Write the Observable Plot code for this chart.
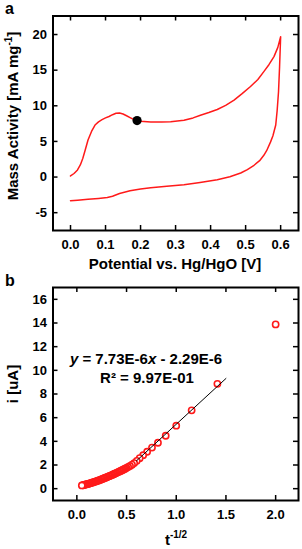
<!DOCTYPE html>
<html><head><meta charset="utf-8">
<script src="https://cdn.jsdelivr.net/npm/d3@7"></script>
<script src="https://cdn.jsdelivr.net/npm/@observablehq/plot@0.6"></script>
<style>
body{margin:0;background:#fff;}
#c{width:302px;}
#c svg{display:block;}
</style></head><body><div id="c"></div>
<script>
// ---- Panel a: cyclic voltammogram ----
const cvPotential = [0.000,0.010,0.020,0.028,0.035,0.042,0.050,0.060,0.070,0.080,0.090,0.100,0.110,0.120,0.130,0.140,0.150,0.160,0.170,0.180,0.190,0.200,0.229,0.260,0.286,0.324,0.350,0.371,0.395,0.419,0.443,0.467,0.490,0.514,0.535,0.552,0.567,0.581,0.592,0.600,
  0.597,0.594,0.590,0.586,0.578,0.571,0.560,0.552,0.540,0.524,0.505,0.486,0.455,0.419,0.370,0.324,0.275,0.229,0.200,0.170,0.140,0.120,0.105,0.080,0.050,0.020,0.000];
const cvActivity = [0.15,0.5,1.0,1.7,2.6,3.8,5.2,6.4,7.3,7.75,8.05,8.3,8.5,8.75,8.95,9.0,8.85,8.6,8.35,8.1,7.93,7.82,7.74,7.72,7.76,7.98,8.3,8.68,9.05,9.48,10.05,10.8,11.7,12.7,13.7,14.8,15.8,16.9,18.2,19.7,
  15.5,12.0,9.3,7.3,5.8,4.9,3.7,3.05,2.3,1.65,1.05,0.57,0.05,-0.37,-0.75,-1.07,-1.3,-1.5,-1.68,-1.93,-2.3,-2.7,-2.88,-3.0,-3.12,-3.25,-3.33];
const markerPotential = [0.19];
const markerActivity = [7.93];
const aXTicks = [0.0,0.1,0.2,0.3,0.4,0.5,0.6];
const aYTicks = [-5,0,5,10,15,20];

// ---- Panel b: i vs t^-1/2 ----
const tInvSqrt = [2.0,1.414,1.155,1.0,0.894,0.816,0.756,0.707,0.667,0.632,0.603,0.577,0.555,0.535,0.516,
  0.50,0.49,0.48,0.47,0.46,0.45,0.44,0.43,0.42,0.41,0.40,0.39,0.38,0.37,0.36,0.35,0.34,0.33,0.32,0.31,0.30,0.29,0.28,0.27,0.26,0.25,0.24,0.23,0.22,0.21,0.20,0.19,0.18,0.17,0.16,0.15,0.14,0.13,0.12,0.11,0.10,0.09,0.08,0.07,0.06,0.05];
const currentUA = [13.88,8.86,6.62,5.32,4.47,3.88,3.47,3.12,2.83,2.58,2.35,2.16,2.03,1.92,1.83,
  1.76,1.71,1.67,1.62,1.58,1.54,1.50,1.46,1.42,1.38,1.34,1.30,1.26,1.22,1.18,1.15,1.11,1.07,1.04,1.00,0.97,0.93,0.90,0.86,0.83,0.80,0.76,0.73,0.70,0.67,0.64,0.61,0.58,0.56,0.53,0.50,0.47,0.45,0.42,0.40,0.38,0.35,0.33,0.31,0.29,0.27];
const fitX = [0.6,1.5];
const fitY = [2.35,9.31];
const bXTicks = [0.0,0.5,1.0,1.5,2.0];
const bYTicks = [0,2,4,6,8,10,12,14,16];

const FONT = "Arial, 'Liberation Sans', sans-serif";
const cv = cvPotential.map((x,i)=>({x, y: cvActivity[i]}));
const marker = markerPotential.map((x,i)=>({x, y: markerActivity[i]}));
const pts = tInvSqrt.map((x,i)=>({x, y: currentUA[i]}));
const fit = fitX.map((x,i)=>({x, y: fitY[i]}));

function frameMarks(xt, yt, innerW, innerH, xfmt){
  const tk = 5;
  return [
    Plot.tickX(xt, {x: d=>d, insetTop: innerH - tk, stroke:"black", strokeWidth:1.5}),
    Plot.tickX(xt, {x: d=>d, insetBottom: innerH - tk, stroke:"black", strokeWidth:1.5}),
    Plot.tickY(yt, {y: d=>d, insetRight: innerW - tk, stroke:"black", strokeWidth:1.5}),
    Plot.tickY(yt, {y: d=>d, insetLeft: innerW - tk, stroke:"black", strokeWidth:1.5}),
    Plot.axisX(xt, {anchor:"bottom", tickSize:0, tickPadding:9, tickFormat: xfmt, fontSize:13, fontWeight:"bold", label:null}),
    Plot.axisY(yt, {anchor:"left", tickSize:0, tickPadding:6, tickFormat: d=>String(d), fontSize:13, fontWeight:"bold", label:null}),
    Plot.frame({stroke:"black", strokeWidth:2})
  ];
}

const W = 302, mL = 52.5, mR = 4;
// Panel a  (svg spans y 0..272)
const hA = 272, mTA = 15.5, mBA = 42;
const svgA = Plot.plot({
  width: W, height: hA, marginLeft: mL, marginRight: mR, marginTop: mTA, marginBottom: mBA,
  style: {fontFamily: FONT, color: "black", background: "white"},
  x: {domain: [-0.05, 0.651]},
  y: {domain: [-7.5, 22.6]},
  marks: [
    Plot.line(cv, {x:"x", y:"y", stroke:"#ff1a1a", strokeWidth:1.5}),
    Plot.dot(marker, {x:"x", y:"y", r:4.6, fill:"black"}),
    ...frameMarks(aXTicks, aYTicks, W-mL-mR, hA-mTA-mBA, d3.format(".1f"))
  ]
});
// Panel b  (svg spans y 272..549)
const hB = 277, mTB = 15, mBB = 49;
const svgB = Plot.plot({
  width: W, height: hB, marginLeft: mL, marginRight: mR, marginTop: mTB, marginBottom: mBB,
  style: {fontFamily: FONT, color: "black", background: "white"},
  x: {domain: [-0.24, 2.23]},
  y: {domain: [-1, 17]},
  marks: [
    Plot.dot(pts, {x:"x", y:"y", r:3.1, stroke:"#ff1a1a", fill:"white", strokeWidth:1.6}),
    Plot.line(fit, {x:"x", y:"y", stroke:"black", strokeWidth:1}),
    ...frameMarks(bXTicks, bYTicks, W-mL-mR, hB-mTB-mBB, d3.format(".1f"))
  ]
});

function txt(svg, x, y, size, opts={}){
  const t = d3.select(svg).append("text")
    .attr("x", x).attr("y", y)
    .attr("font-family", FONT).attr("font-weight", "bold")
    .attr("font-size", size).attr("fill", "black")
    .attr("text-anchor", opts.anchor || "start");
  if (opts.rotate) t.attr("transform", `rotate(-90 ${x} ${y})`);
  return t;
}

// Panel a texts
txt(svgA, 5, 14, 16).text("a");
{
  const t = txt(svgA, 17.5, 116, 15, {anchor:"middle", rotate:true});
  t.append("tspan").text("Mass Activity [mA mg");
  t.append("tspan").attr("font-size", 10).attr("dy", -6).text("-1");
  t.append("tspan").attr("dy", 6).text("]");
}
txt(svgA, 175, 268.5, 15, {anchor:"middle"}).text("Potential vs. Hg/HgO [V]");

// Panel b texts (offset 272)
txt(svgB, 5, 14, 16).text("b");
txt(svgB, 17.5, 112, 15, {anchor:"middle", rotate:true}).text("i [uA]");
{
  const t = txt(svgB, 176, 273, 15, {anchor:"middle"});
  t.append("tspan").text("t");
  t.append("tspan").attr("font-size", 10).attr("dy", -7).text("-1/2");
}
{
  const t = txt(svgB, 146, 91.5, 15, {anchor:"middle"});
  t.append("tspan").attr("font-style", "italic").text("y");
  t.append("tspan").text(" = 7.73E-6");
  t.append("tspan").attr("font-style", "italic").text("x");
  t.append("tspan").text(" - 2.29E-6");
}
txt(svgB, 147, 111, 15, {anchor:"middle"}).text("R² = 9.97E-01");

document.getElementById("c").append(svgA, svgB);
</script></body></html>
